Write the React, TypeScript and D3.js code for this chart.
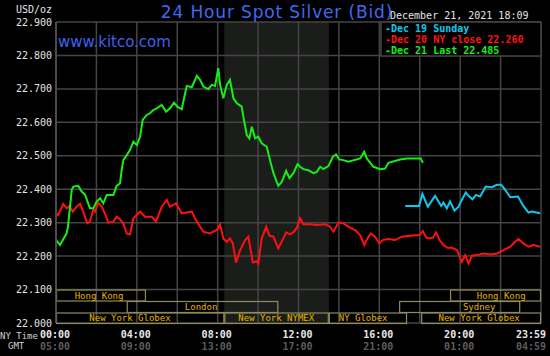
import React from "react";
import * as d3 from "d3";

// ---------- data ----------
const Y_TICKS = [22.0, 22.1, 22.2, 22.3, 22.4, 22.5, 22.6, 22.7, 22.8, 22.9];
const TIME_TICKS = [0, 4, 8, 12, 16, 20, 24];
const NY_LABELS = ["00:00", "04:00", "08:00", "12:00", "16:00", "20:00", "23:59"];
const GMT_LABELS = ["05:00", "09:00", "13:00", "17:00", "21:00", "01:00", "04:59"];
const GRID_HOURS = [0, 2, 4, 6, 8, 10, 12, 14, 16, 18, 20, 22, 24];

const TITLE = "24 Hour Spot Silver (Bid)";
const SITE = "www.kitco.com";
const STAMP = "December 21, 2021 18:09";
const LEGEND = ["-Dec 19 Sunday", "-Dec 20 NY close 22.260", "-Dec 21 Last 22.485"];

// COMEX session (shaded), NY hours
const SHADE = [8.33, 13.5];

// market sessions: [label, startHour, endHour, row, labelCenterHour]
const SESSIONS: [string, number, number, number, number][] = [
  ["Hong Kong", 0, 4.45, 0, 2.13],
  ["London", 3.5, 11.0, 1, 7.18],
  ["New York Globex", 0, 8.33, 2, 3.66],
  ["New York NYMEX", 8.33, 13.5, 2, 10.9],
  ["NY Globex", 13.5, 17.37, 2, 15.2],
  ["Hong Kong", 19.5, 24, 0, 22.03],
  ["Sydney", 16.98, 22.97, 1, 20.94],
  ["New York Globex", 18.07, 24, 2, 20.94],
];

// Dec 21 (green)
const DEC21: [number, number][] = [[0,22.248],[0.2,22.233],[0.53,22.269],[0.59,22.287],[0.78,22.398],[0.86,22.408],[1.10,22.41],[1.27,22.393],[1.44,22.383],[1.68,22.343],[1.85,22.343],[2.01,22.363],[2.18,22.373],[2.34,22.358],[2.51,22.383],[2.84,22.383],[3.00,22.41],[3.17,22.418],[3.25,22.457],[3.33,22.487],[3.50,22.502],[3.66,22.517],[3.83,22.542],[4.00,22.532],[4.16,22.557],[4.29,22.607],[4.49,22.622],[4.65,22.627],[4.82,22.637],[4.99,22.642],[5.23,22.652],[5.45,22.632],[5.64,22.642],[5.84,22.659],[6.00,22.647],[6.22,22.639],[6.39,22.687],[6.47,22.709],[6.72,22.705],[6.97,22.739],[7.13,22.727],[7.29,22.707],[7.54,22.699],[7.71,22.712],[7.87,22.709],[8.03,22.762],[8.12,22.712],[8.28,22.672],[8.45,22.712],[8.61,22.727],[8.78,22.672],[8.95,22.657],[9.19,22.647],[9.27,22.617],[9.44,22.562],[9.57,22.552],[9.69,22.587],[9.85,22.552],[10.01,22.557],[10.18,22.537],[10.43,22.527],[10.59,22.487],[10.76,22.448],[11.00,22.41],[11.17,22.422],[11.39,22.455],[11.55,22.433],[11.75,22.448],[11.95,22.475],[12.08,22.467],[12.24,22.46],[12.49,22.457],[12.74,22.448],[12.91,22.452],[13.07,22.467],[13.23,22.46],[13.48,22.469],[13.70,22.497],[13.86,22.504],[14.02,22.489],[14.22,22.487],[14.47,22.482],[15.05,22.492],[15.25,22.512],[15.38,22.492],[15.71,22.467],[16.04,22.46],[16.29,22.462],[16.45,22.479],[17.03,22.489],[17.36,22.492],[18.05,22.492],[18.15,22.479]];

// Dec 20 (red)
const DEC20: [number, number][] = [[0,22.326],[0.11,22.323],[0.36,22.356],[0.53,22.343],[0.66,22.35],[0.83,22.333],[1.02,22.348],[1.19,22.356],[1.35,22.333],[1.55,22.298],[1.68,22.303],[1.85,22.34],[1.93,22.333],[2.09,22.36],[2.26,22.348],[2.43,22.326],[2.59,22.3],[2.84,22.303],[3.00,22.318],[3.17,22.31],[3.33,22.298],[3.50,22.268],[3.66,22.265],[3.83,22.313],[4.16,22.333],[4.41,22.318],[4.74,22.318],[4.95,22.303],[5.23,22.348],[5.48,22.368],[5.64,22.348],[5.94,22.358],[6.22,22.328],[6.72,22.333],[6.97,22.303],[7.29,22.273],[7.62,22.268],[7.96,22.278],[8.12,22.294],[8.28,22.253],[8.45,22.243],[8.61,22.253],[8.75,22.238],[8.91,22.181],[9.11,22.218],[9.36,22.248],[9.52,22.258],[9.74,22.181],[9.94,22.185],[10.01,22.178],[10.18,22.253],[10.40,22.288],[10.56,22.261],[10.76,22.258],[11.00,22.223],[11.25,22.253],[11.39,22.271],[11.58,22.265],[11.78,22.273],[11.92,22.285],[12.08,22.313],[12.24,22.295],[12.57,22.295],[12.91,22.293],[13.32,22.295],[13.56,22.288],[13.73,22.273],[13.98,22.301],[14.22,22.298],[14.55,22.285],[14.80,22.278],[15.05,22.263],[15.26,22.233],[15.41,22.253],[15.58,22.268],[15.79,22.258],[16.00,22.238],[16.17,22.248],[16.45,22.251],[16.78,22.248],[17.11,22.258],[17.52,22.261],[17.99,22.263],[18.15,22.275],[18.32,22.255],[18.48,22.253],[18.65,22.255],[18.81,22.271],[18.98,22.248],[19.17,22.233],[19.37,22.225],[19.59,22.225],[19.84,22.218],[20.08,22.183],[20.25,22.203],[20.41,22.178],[20.58,22.201],[20.83,22.203],[21.15,22.208],[21.49,22.205],[21.82,22.208],[22.14,22.218],[22.48,22.228],[22.72,22.243],[22.89,22.251],[23.13,22.238],[23.38,22.228],[23.63,22.233],[23.96,22.228]];

// Dec 19 Sunday (cyan)
const DEC19: [number, number][] = [[17.28,22.35],[17.97,22.35],[18.13,22.386],[18.40,22.348],[18.76,22.38],[19.06,22.35],[19.17,22.36],[19.34,22.343],[19.50,22.363],[19.72,22.336],[19.92,22.348],[20.08,22.368],[20.28,22.39],[20.45,22.378],[20.61,22.37],[20.78,22.383],[20.99,22.378],[21.10,22.39],[21.27,22.408],[21.57,22.406],[21.82,22.413],[22.03,22.413],[22.23,22.398],[22.48,22.376],[22.86,22.378],[23.13,22.35],[23.38,22.33],[23.55,22.333],[23.96,22.328]];

// ---------- chart ----------
const W = 550, H = 356;
const L = 56, R = 541, T = 22, B = 323;
const MONO = "'DejaVu Sans Mono', monospace";

export default function App() {
  const x = d3.scaleLinear().domain([0, 24]).range([L, R]);
  const y = d3.scaleLinear().domain([22.0, 22.9]).range([B, T]);
  const line = d3.line<[number, number]>().x(d => x(d[0])).y(d => y(d[1]));
  const rowTop = [290, 301.5, 313];
  const rowH = [11, 11, 10.5];
  const series: [[number, number][], string][] = [
    [DEC20, "#ff1010"],
    [DEC19, "#10c8ec"],
    [DEC21, "#14f014"],
  ];
  const legendColors = ["#10c8ec", "#ff1010", "#14f014"];
  return (
    <svg width={W} height={H} style={{ position: "absolute", left: 0, top: 0, background: "#000" }}>
      <rect x={0} y={0} width={W} height={H} fill="#000" />
      <rect x={x(SHADE[0])} y={T} width={x(SHADE[1]) - x(SHADE[0])} height={B - T} fill="#1b1d1b" />
      {GRID_HOURS.map(h => (
        <line key={"v" + h} x1={x(h)} x2={x(h)} y1={T} y2={B} stroke="#454545" strokeWidth={1.5} />
      ))}
      {Y_TICKS.map(v => (
        <line key={"h" + v} x1={L} x2={R} y1={y(v)} y2={y(v)} stroke="#454545" strokeWidth={1.5} />
      ))}
      {Y_TICKS.map(v => (
        <text key={"yl" + v} x={52} y={y(v)} dy="0.35em" textAnchor="end" fontFamily={MONO} fontSize={10} fill="#e4e4e4">
          {d3.format(".3f")(v)}
        </text>
      ))}
      <text x={52} y={9} dy="0.35em" textAnchor="end" fontFamily={MONO} fontSize={10} fill="#e4e4e4">USD/oz</text>

      {SESSIONS.map((s, i) => (
        <g key={"s" + i}>
          <rect x={x(s[1]) + 0.5} y={rowTop[s[3]]} width={x(s[2]) - x(s[1]) - 1} height={rowH[s[3]]} fill="none" stroke="#8e8c5c" strokeWidth={1.2} />
          <text x={x(s[4])} y={rowTop[s[3]] + rowH[s[3]] / 2} dy="0.35em" textAnchor="middle" fontFamily={MONO} fontSize={9} fill="#e8b400">
            {s[0]}
          </text>
        </g>
      ))}

      {series.map(([d, c], i) => (
        <path key={"l" + i} d={line(d) || ""} fill="none" stroke={c} strokeWidth={2} strokeLinejoin="miter" />
      ))}

      <text x={W / 2 + 2} y={12} dy="0.35em" textAnchor="middle" fontFamily="'DejaVu Sans', sans-serif" fontSize={17} letterSpacing={0.85} fill="#3f6af0">{TITLE}</text>
      <text x={58} y={47} fontFamily="'DejaVu Sans', sans-serif" fontSize={15} fill="#3d62ec">{SITE}</text>
      <text x={390} y={15} dy="0.35em" fontFamily={MONO} fontSize={10} fill="#e4e4e4">{STAMP}</text>

      <rect x={381} y={T} width={R - 381} height={34} fill="#000" stroke="#454545" strokeWidth={1.5} />
      {LEGEND.map((t, i) => (
        <text key={"lg" + i} x={385} y={28 + i * 11.3} dy="0.35em" fontFamily={MONO} fontWeight="bold" fontSize={10} fill={legendColors[i]}>{t}</text>
      ))}

      <line x1={L} x2={L} y1={T} y2={B} stroke="#555" strokeWidth={1.5} />
      {TIME_TICKS.map((h, i) => (
        <g key={"t" + h}>
          <text x={Math.min(x(h) - 1, 531)} y={334} dy="0.35em" textAnchor="middle" fontFamily={MONO} fontWeight="bold" fontSize={10} fill="#e8e8e8">{NY_LABELS[i]}</text>
          <text x={Math.min(x(h) - 1, 531)} y={346} dy="0.35em" textAnchor="middle" fontFamily={MONO} fontWeight="bold" fontSize={10} fill="#5c5c5c">{GMT_LABELS[i]}</text>
        </g>
      ))}
      <text x={0} y={336} dy="0.35em" fontFamily={MONO} fontSize={9} fill="#d0d0d0">NY Time</text>
      <text x={8} y={346} dy="0.35em" fontFamily={MONO} fontSize={9} fill="#d0d0d0">GMT</text>
    </svg>
  );
}
